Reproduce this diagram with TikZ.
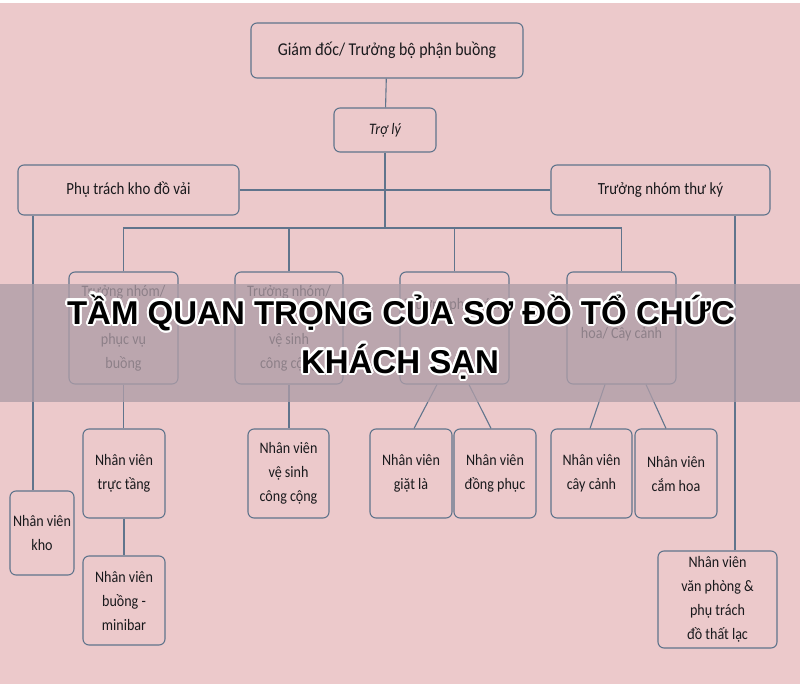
\documentclass[tikz,border=0pt]{standalone}
\usepackage{fontspec}
\setmainfont{Carlito}[FakeStretch=0.88]
\newfontfamily\titlefont{Liberation Sans}
\usepackage[copies]{contour}
\contourlength{2.2pt}
\definecolor{bgpink}{RGB}{236,201,203}
\definecolor{bandgray}{RGB}{174,157,167}
\definecolor{edgeblue}{RGB}{96,116,140}
\definecolor{ink}{RGB}{25,25,28}
\tikzset{
  box/.style={draw=edgeblue, line width=1.1pt, rounded corners=6pt, align=center,
    text=ink, inner sep=0pt, font=\fontsize{16}{24}\selectfont},
  link/.style={draw=edgeblue, line width=1.1pt},
  titletext/.style={anchor=base, font=\titlefont\bfseries\fontsize{33}{33}\selectfont}
}
\begin{document}
\begin{tikzpicture}[x=1pt,y=-1pt]
\fill[white] (0,0) rectangle (800,687);
\fill[bgpink] (0,3) rectangle (800,684);
\useasboundingbox (0,0) rectangle (800,687);

\node[box, minimum width=272pt, minimum height=55pt, font=\fontsize{18}{20}\selectfont] (gd) at (387,50.5) {Giám đốc/ Trưởng bộ phận buồng};
\node[box, minimum width=102pt, minimum height=44pt, font=\fontsize{16}{20}\selectfont\itshape] (troly) at (385,130) {Trợ lý};
\node[box, minimum width=221pt, minimum height=50pt, font=\fontsize{17}{24}\selectfont] (khovai) at (128.5,190) {Phụ trách kho đồ vải};
\node[box, minimum width=219pt, minimum height=50pt, font=\fontsize{17}{24}\selectfont] (thuky) at (660.5,190) {Trưởng nhóm thư ký};

\node[box, minimum width=109pt, minimum height=112pt] (tn1) at (123.5,328) {Trưởng nhóm/\\\mbox{}\\phục vụ\\buồng};
\node[box, minimum width=108pt, minimum height=112pt] (tn2) at (289,328) {Trưởng nhóm/\\\mbox{}\\vệ sinh\\công cộng};
\node[box, minimum width=109pt, minimum height=112pt] (tn3) at (454.5,328) {Trưởng phụ trách\\\mbox{}\\\mbox{}};
\node[box, minimum width=109pt, minimum height=112pt] (tn4) at (621.5,328) {\mbox{}\\hoa/ Cây cảnh};

\node[box, minimum width=82pt, minimum height=89pt] (tructang) at (124,473.5) {Nhân viên\\trực tầng};
\node[box, minimum width=64pt, minimum height=84pt] (kho) at (42,533) {Nhân viên\\kho};
\node[box, minimum width=82pt, minimum height=89pt] (minibar) at (124,600.5) {Nhân viên\\buồng -\\minibar};
\node[box, minimum width=81pt, minimum height=89pt] (vesinh) at (288.5,473.5) {Nhân viên\\vệ sinh\\công cộng};
\node[box, minimum width=82pt, minimum height=89pt] (giatla) at (411,473.5) {Nhân viên\\giặt là};
\node[box, minimum width=82pt, minimum height=89pt] (dongphuc) at (495,473.5) {Nhân viên\\đồng phục};
\node[box, minimum width=81pt, minimum height=89pt] (caycanh) at (591.5,473.5) {Nhân viên\\cây cảnh};
\node[box, minimum width=82pt, minimum height=89pt] (camhoa) at (676,473.5) {Nhân viên\\cắm hoa};
\node[box, minimum width=119pt, minimum height=97pt] (vanphong) at (717.5,599.5) {Nhân viên\\văn phòng \&\\phụ trách\\đồ thất lạc};

\coordinate (bus) at (0,228);
\coordinate (k1) at ([xshift=-9pt]kho.north);
\coordinate (v1) at ([xshift=17.5pt]vanphong.north);

\draw[link] (gd) -- (troly);
\draw[link] (khovai) -- (thuky);
\draw[link] (troly.south) -- (troly.south |- bus);
\draw[link] (tn1.north) |- (tn4.north |- bus) -- (tn4.north);
\draw[link] (tn2.north) -- (tn2.north |- bus);
\draw[link] (tn3.north) -- (tn3.north |- bus);
\draw[link] (k1) -- (k1 |- khovai.south);
\draw[link] (v1) -- (v1 |- thuky.south);
\draw[link] (tn1.south) -- (tn1.south |- tructang.north);
\draw[link] (tructang) -- (minibar);
\draw[link] (tn2.south) -- (tn2.south |- vesinh.north);
\draw[link] ([xshift=-17.5pt]tn3.south) -- ([xshift=3pt]giatla.north);
\draw[link] ([xshift=14.5pt]tn3.south) -- ([xshift=-4pt]dongphuc.north);
\draw[link] ([xshift=-16.5pt]tn4.south) -- ([xshift=-1.5pt]caycanh.north);
\draw[link] ([xshift=24.5pt]tn4.south) -- ([xshift=-10pt]camhoa.north);

\fill[bandgray, opacity=0.78] (0,284) rectangle (800,402);
\node[titletext] (title1) at (401,324) {\contour{white}{TẦM QUAN TRỌNG CỦA SƠ ĐỒ TỔ CHỨC}};
\node[titletext] (title2) at (400,373) {\contour{white}{KHÁCH SẠN}};
\end{tikzpicture}
\end{document}
